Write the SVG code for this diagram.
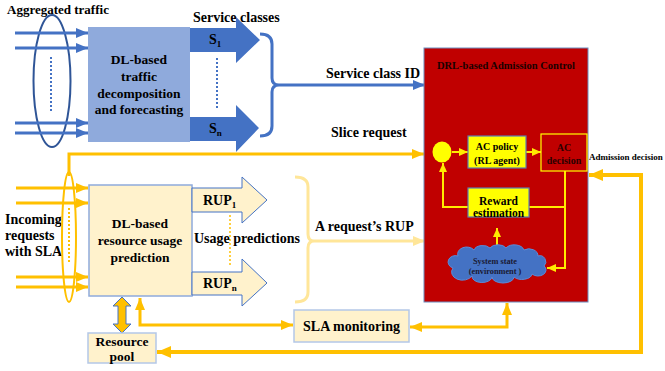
<svg xmlns="http://www.w3.org/2000/svg" width="665" height="371" viewBox="0 0 665 371">
<defs>
<style>
text{font-family:"Liberation Serif","Times New Roman",serif;font-weight:bold;fill:#000}
.lbl{font-size:14px}
.bx{font-size:13.5px;text-anchor:middle}
.blue{stroke:#4472C4;stroke-width:3;fill:none}
.yel{stroke:#FFC000;stroke-width:3;fill:none}
.yelT{stroke:#FFC000;stroke-width:4;fill:none}
.lyel{stroke:#FFE699;stroke-width:3;fill:none}
.inner{stroke:#FFEB00;stroke-width:2;fill:none}
</style>
<marker id="aB" markerUnits="userSpaceOnUse" markerWidth="12" markerHeight="12" viewBox="0 0 12 12" refX="12" refY="6" orient="auto"><path d="M0,1 L12,6 L0,11 Z" fill="#4472C4"/></marker>
<marker id="aY" markerUnits="userSpaceOnUse" markerWidth="12" markerHeight="12" viewBox="0 0 12 12" refX="12" refY="6" orient="auto-start-reverse"><path d="M0,1 L12,6 L0,11 Z" fill="#FFC000"/></marker>
<marker id="aYT" markerUnits="userSpaceOnUse" markerWidth="14" markerHeight="14" viewBox="0 0 14 14" refX="14" refY="7" orient="auto"><path d="M0,1 L14,7 L0,13 Z" fill="#FFC000"/></marker>
<marker id="aLY" markerUnits="userSpaceOnUse" markerWidth="12" markerHeight="12" viewBox="0 0 12 12" refX="12" refY="6" orient="auto"><path d="M0,1 L12,6 L0,11 Z" fill="#FFE699"/></marker>
<marker id="aI" markerUnits="userSpaceOnUse" markerWidth="9" markerHeight="9" viewBox="0 0 9 9" refX="9" refY="4.5" orient="auto"><path d="M0,0.5 L9,4.5 L0,8.5 Z" fill="#FFEB00"/></marker>
</defs>
<rect width="665" height="371" fill="#fff"/>

<g id="aggregated-traffic">
<text class="lbl" x="7" y="14" style="font-size:13px">Aggregated traffic</text>
<ellipse cx="52" cy="81" rx="18.5" ry="66" fill="none" stroke="#2F5597" stroke-width="2"/>
<line x1="51" y1="57" x2="51" y2="113" stroke="#4472C4" stroke-width="2" stroke-dasharray="2,2"/>
</g>

<g id="incoming-requests">
<text class="lbl" x="5" y="224">Incoming</text>
<text class="lbl" x="5" y="240">requests</text>
<text class="lbl" x="5" y="256">with SLA</text>
<ellipse cx="69" cy="237" rx="7" ry="65" fill="none" stroke="#FFC000" stroke-width="2"/>
<line x1="69" y1="208" x2="69" y2="264" stroke="#FFC000" stroke-width="2" stroke-dasharray="2,2"/>
</g>

<g id="connectors">
<line class="blue" x1="15" y1="33" x2="88" y2="33" marker-end="url(#aB)"/>
<line class="blue" x1="15" y1="48" x2="88" y2="48" marker-end="url(#aB)"/>
<line class="blue" x1="15" y1="123" x2="88" y2="123" marker-end="url(#aB)"/>
<line class="blue" x1="15" y1="133" x2="88" y2="133" marker-end="url(#aB)"/>
<line class="yel" x1="16" y1="188" x2="88" y2="188" marker-end="url(#aY)"/>
<line class="yel" x1="16" y1="203" x2="88" y2="203" marker-end="url(#aY)"/>
<line class="yel" x1="16" y1="277" x2="88" y2="277" marker-end="url(#aY)"/>
<line class="yel" x1="16" y1="287" x2="88" y2="287" marker-end="url(#aY)"/>
<path class="blue" d="M260,34 Q272,34 272,44 V78 Q272,85 279,85 Q272,85 272,92 V126 Q272,136 260,136"/>
<line class="blue" x1="279" y1="85" x2="425" y2="85" marker-end="url(#aB)"/>
<path class="yel" d="M69,176 V154 H424" marker-end="url(#aY)"/>
<path class="lyel" d="M295,177 Q308,177 308,187 V234 Q308,241 314,241 Q308,241 308,248 V292 Q308,302 295,302"/>
<line class="lyel" x1="314" y1="241" x2="425" y2="241" marker-end="url(#aLY)"/>
<path class="yel" d="M140,298 V325 H293" marker-start="url(#aY)" marker-end="url(#aY)"/>
<path class="yel" d="M507,303 V327 H410" marker-start="url(#aY)" marker-end="url(#aY)"/>
<path class="yelT" d="M641,175 V352 H157" marker-end="url(#aYT)"/>
<path class="yelT" d="M643,175 H589" marker-end="url(#aYT)"/>
<polygon points="122,297 131,306 126,306 126,324 131,324 122,333 113,324 118,324 118,306 113,306" fill="#FFC000" stroke="#4472C4" stroke-width="1"/>
</g>

<g id="dl-traffic-box">
<rect x="88" y="27" width="102" height="115" fill="#8FAADC"/>
<text class="bx" x="139" y="64">DL-based</text>
<text class="bx" x="139" y="81">traffic</text>
<text class="bx" x="139" y="98">decomposition</text>
<text class="bx" x="139" y="114">and forecasting</text>
</g>

<g id="service-classes">
<text class="lbl" x="193" y="22">Service classes</text>
<polygon points="190,28 236,28 236,17 260,40 236,63 236,52 190,52" fill="#4472C4"/>
<polygon points="190,117 236,117 236,105 259,128 236,152 236,141 190,141" fill="#4472C4"/>
<text class="lbl" x="209" y="44">S<tspan font-size="9" dy="3">1</tspan></text>
<text class="lbl" x="209" y="133">S<tspan font-size="9" dy="3">n</tspan></text>
<line x1="217" y1="58" x2="217" y2="110" stroke="#4472C4" stroke-width="2" stroke-dasharray="2,2"/>
<text class="lbl" x="326" y="78">Service class ID</text>
<text class="lbl" x="331" y="137">Slice request</text>
</g>

<g id="dl-resource-box">
<rect x="89" y="185" width="103" height="111" fill="#FFF2CC" stroke="#8FAADC" stroke-width="1.5"/>
<text class="bx" x="140" y="228">DL-based</text>
<text class="bx" x="140" y="245">resource usage</text>
<text class="bx" x="140" y="262">prediction</text>
</g>

<g id="rup">
<polygon points="192,188 242,188 242,177 267,200 242,223 242,212 192,212" fill="#FFF2CC" stroke="#4472C4" stroke-width="1"/>
<polygon points="192,272 242,272 242,259 267,283 242,306 242,295 192,295" fill="#FFF2CC" stroke="#4472C4" stroke-width="1"/>
<text class="lbl" x="203" y="205">RUP<tspan font-size="9" dy="3">1</tspan></text>
<text class="lbl" x="203" y="288">RUP<tspan font-size="9" dy="3">n</tspan></text>
<line x1="230" y1="215" x2="230" y2="265" stroke="#FFC000" stroke-width="1.5" stroke-dasharray="2,2"/>
<text class="lbl" x="194" y="243">Usage predictions</text>
<text class="lbl" x="315" y="231">A request’s RUP</text>
</g>

<g id="resource-pool">
<rect x="88" y="333" width="68" height="30" fill="#FFF2CC" stroke="#B4C7E7" stroke-width="1.5"/>
<text class="bx" x="122" y="346">Resource</text>
<text class="bx" x="122" y="361">pool</text>
</g>

<g id="sla-monitoring">
<rect x="294" y="310" width="115" height="32" fill="#FFF2CC" stroke="#B4C7E7" stroke-width="1.5"/>
<text class="lbl" x="351.5" y="331" text-anchor="middle">SLA monitoring</text>
</g>

<g id="drl-admission-control">
<rect x="424" y="48" width="164" height="254" fill="#C00000" stroke="#6C8EBF" stroke-width="1"/>
<text x="506" y="69" text-anchor="middle" style="font-size:10.5px;fill:#1a0000">DRL-based Admission Control</text>
<line class="inner" x1="452" y1="152" x2="468" y2="152" marker-end="url(#aI)"/>
<line class="inner" x1="526" y1="152" x2="541" y2="152" marker-end="url(#aI)"/>
<path class="inner" d="M565,171 V268 H547" marker-end="url(#aI)"/>
<path class="inner" d="M565,207 H529"/>
<path class="inner" d="M468,207 H443 V163" marker-end="url(#aI)"/>
<line class="inner" x1="497" y1="249" x2="497" y2="228" marker-end="url(#aI)"/>
</g>

<g id="agent-input">
<ellipse cx="442" cy="152" rx="9.5" ry="10.5" fill="#FFFF00"/>
</g>

<g id="ac-policy">
<rect x="468" y="136" width="58" height="32" fill="#FFFF00" stroke="#5B7DB1" stroke-width="1.2"/>
<text x="497" y="150" text-anchor="middle" style="font-size:10px">AC policy</text>
<text x="497" y="164" text-anchor="middle" style="font-size:10px">(RL agent)</text>
</g>

<g id="ac-decision">
<rect x="541" y="134" width="46" height="37" fill="#C00000" stroke="#FFFF00" stroke-width="1.2"/>
<text x="564" y="151" text-anchor="middle" style="font-size:10px;fill:#2a0000">AC</text>
<text x="564" y="164" text-anchor="middle" style="font-size:10px;fill:#2a0000">decision</text>
</g>
<text x="589" y="160" style="font-size:9px">Admission decision</text>

<g id="reward-estimation">
<rect x="468" y="188" width="61" height="29" fill="#FFFF00" stroke="#5B7DB1" stroke-width="1.2"/>
<text x="498.5" y="205" text-anchor="middle" style="font-size:11.5px">Reward</text>
<text x="498.5" y="217" text-anchor="middle" style="font-size:11.5px">estimation</text>
</g>

<g id="system-state">
<path d="M453,268 A7,6 0 0 1 458,256 A9,7 0 0 1 474,250 A9,6 0 0 1 490,248 A9,6 0 0 1 506,248 A10,7 0 0 1 524,250 A9,7 0 0 1 538,256 A6,6 0 0 1 544,266 A8,6 0 0 1 532,274 A10,6 0 0 1 514,277 A11,6 0 0 1 492,277 A10,6 0 0 1 472,276 A8,6 0 0 1 453,268 Z" fill="#4472C4" stroke="#5B8BD9" stroke-width="1"/>
<text x="495" y="264" text-anchor="middle" style="font-size:8.3px;fill:#1a1a33">System state</text>
<text x="495" y="274" text-anchor="middle" style="font-size:8.3px;fill:#1a1a33">(environment )</text>
</g>
</svg>
